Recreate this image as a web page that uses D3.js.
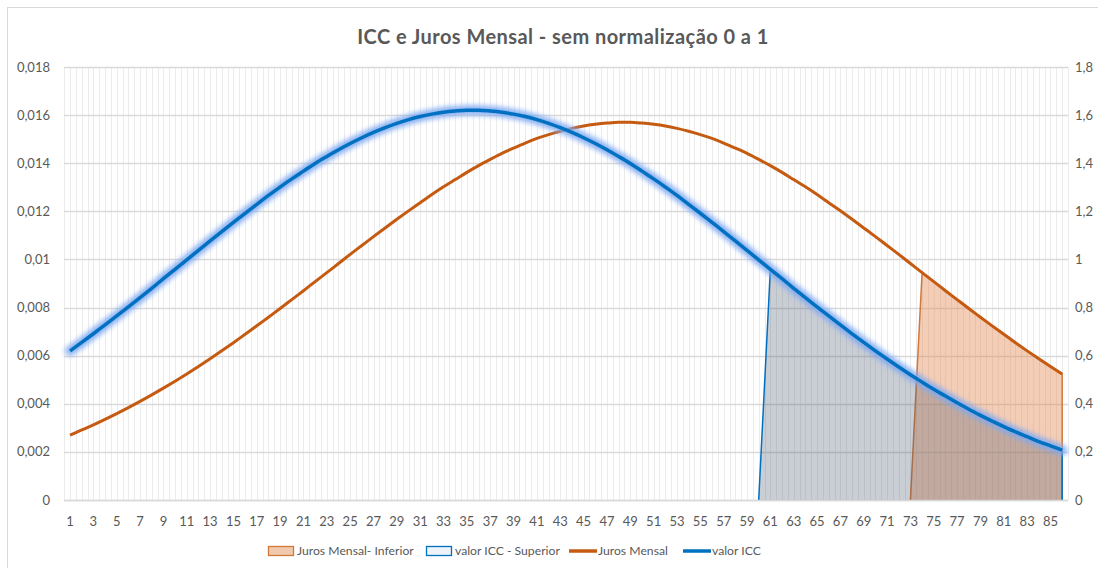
<!DOCTYPE html>
<html>
<head>
<meta charset="utf-8">
<script src="https://cdn.jsdelivr.net/npm/d3@7"></script>
<style>
body { margin: 0; background: #fff; }
text { font-family: Lato, "Open Sans", sans-serif; fill: #595959; }
</style>
</head>
<body>
<div id="mainDiv"></div>
<script>
'use strict';

// categorias 1..86
var categories = d3.range(1, 87);

// valor ICC (eixo esquerdo)
var valorICC = [
  0.00620, 0.00655, 0.00691, 0.00728, 0.00765, 0.00803, 0.00841, 0.00880, 0.00920, 0.00959,
  0.00998, 0.01038, 0.01077, 0.01116, 0.01154, 0.01192, 0.01229, 0.01266, 0.01301, 0.01335,
  0.01367, 0.01399, 0.01428, 0.01456, 0.01482, 0.01506, 0.01528, 0.01548, 0.01566, 0.01581,
  0.01594, 0.01604, 0.01612, 0.01617, 0.01620, 0.01620, 0.01617, 0.01612, 0.01604, 0.01594,
  0.01581, 0.01566, 0.01548, 0.01528, 0.01506, 0.01482, 0.01456, 0.01428, 0.01399, 0.01367,
  0.01335, 0.01301, 0.01266, 0.01229, 0.01192, 0.01154, 0.01116, 0.01077, 0.01038, 0.00998,
  0.00959, 0.00920, 0.00880, 0.00841, 0.00803, 0.00765, 0.00728, 0.00691, 0.00655, 0.00620,
  0.00586, 0.00553, 0.00521, 0.00490, 0.00460, 0.00432, 0.00404, 0.00377, 0.00352, 0.00328,
  0.00305, 0.00283, 0.00263, 0.00243, 0.00225, 0.00207
];

// Juros Mensal (eixo direito)
var jurosMensal = [
  0.270, 0.291, 0.312, 0.335, 0.359, 0.384, 0.410, 0.437, 0.465, 0.494,
  0.524, 0.555, 0.587, 0.620, 0.654, 0.689, 0.724, 0.760, 0.796, 0.833,
  0.870, 0.908, 0.945, 0.983, 1.021, 1.058, 1.095, 1.131, 1.167, 1.202,
  1.236, 1.270, 1.302, 1.332, 1.362, 1.390, 1.416, 1.441, 1.463, 1.484,
  1.503, 1.519, 1.533, 1.545, 1.555, 1.562, 1.567, 1.570, 1.570, 1.567,
  1.562, 1.555, 1.545, 1.533, 1.519, 1.503, 1.484, 1.463, 1.441, 1.416,
  1.390, 1.362, 1.332, 1.302, 1.270, 1.236, 1.202, 1.167, 1.131, 1.095,
  1.058, 1.021, 0.983, 0.945, 0.908, 0.870, 0.833, 0.796, 0.760, 0.724,
  0.689, 0.654, 0.620, 0.587, 0.555, 0.524
];

// valor ICC - Superior (area, eixo esquerdo)
var iccSuperior = [
  0, 0, 0, 0, 0, 0, 0, 0, 0, 0,
  0, 0, 0, 0, 0, 0, 0, 0, 0, 0,
  0, 0, 0, 0, 0, 0, 0, 0, 0, 0,
  0, 0, 0, 0, 0, 0, 0, 0, 0, 0,
  0, 0, 0, 0, 0, 0, 0, 0, 0, 0,
  0, 0, 0, 0, 0, 0, 0, 0, 0, 0,
  0.00959, 0.00920, 0.00880, 0.00841, 0.00803, 0.00765, 0.00728, 0.00691, 0.00655, 0.00620,
  0.00586, 0.00553, 0.00521, 0.00490, 0.00460, 0.00432, 0.00404, 0.00377, 0.00352, 0.00328,
  0.00305, 0.00283, 0.00263, 0.00243, 0.00225, 0.00207
];

// Juros Mensal - Inferior (area, eixo direito)
var jurosInferior = [
  0, 0, 0, 0, 0, 0, 0, 0, 0, 0,
  0, 0, 0, 0, 0, 0, 0, 0, 0, 0,
  0, 0, 0, 0, 0, 0, 0, 0, 0, 0,
  0, 0, 0, 0, 0, 0, 0, 0, 0, 0,
  0, 0, 0, 0, 0, 0, 0, 0, 0, 0,
  0, 0, 0, 0, 0, 0, 0, 0, 0, 0,
  0, 0, 0, 0, 0, 0, 0, 0, 0, 0,
  0, 0, 0, 0.945, 0.908, 0.870, 0.833, 0.796, 0.760, 0.724,
  0.689, 0.654, 0.620, 0.587, 0.555, 0.524
];

var leftTicks  = [0, 0.002, 0.004, 0.006, 0.008, 0.010, 0.012, 0.014, 0.016, 0.018];
var rightTicks = [0, 0.2, 0.4, 0.6, 0.8, 1.0, 1.2, 1.4, 1.6, 1.8];

var legendItems = [
  {name: 'Juros Mensal- Inferior', type: 'area', fill: '#f1c9ae', stroke: '#d2773a', x: 268},
  {name: 'valor ICC - Superior',   type: 'area', fill: '#eef3fa', stroke: '#0070c0', x: 426},
  {name: 'Juros Mensal',           type: 'line', stroke: '#c55a11', x: 569},
  {name: 'valor ICC',              type: 'line', stroke: '#0070c0', x: 683}
];

var W = 1098, H = 568;
var plot = {left: 64.2, right: 1068, top: 67, bottom: 500};

var ptBR = d3.formatLocale({decimal: ',', thousands: '.', grouping: [3], currency: ['R$', '']});
var fmt = ptBR.format('~g');

var svg = d3.select('#mainDiv').append('svg')
  .attr('width', W)
  .attr('height', H);

// moldura
svg.append('rect')
  .attr('x', 7.5).attr('y', 7.5)
  .attr('width', W + 20).attr('height', H + 20)
  .attr('fill', 'none')
  .attr('stroke', '#d9d9d9');

var x = d3.scaleBand()
  .domain(categories)
  .range([plot.left, plot.right])
  .padding(0);
var bw = x.bandwidth();
var cx = function(c) { return x(c) + bw / 2; };

var yL = d3.scaleLinear().domain([0, 0.018]).range([plot.bottom, plot.top]);
var yR = d3.scaleLinear().domain([0, 1.8]).range([plot.bottom, plot.top]);

// titulo
svg.append('text')
  .attr('x', 563).attr('y', 44)
  .attr('text-anchor', 'middle')
  .style('font-size', '20px')
  .style('letter-spacing', '0.45px')
  .style('font-weight', 'bold')
  .text('ICC e Juros Mensal - sem normalização 0 a 1');

// grade vertical (meia categoria)
var vLines = [];
categories.forEach(function(c) { vLines.push(x(c)); vLines.push(x(c) + bw / 2); });
vLines.push(plot.right);
svg.append('g').selectAll('line')
  .data(vLines)
  .enter().append('line')
  .attr('x1', function(d) { return Math.round(d) + 0.5; })
  .attr('x2', function(d) { return Math.round(d) + 0.5; })
  .attr('y1', plot.top).attr('y2', plot.bottom)
  .attr('stroke', '#ebebeb')
  .attr('stroke-width', 1);

// grade horizontal
svg.append('g').selectAll('line')
  .data(leftTicks)
  .enter().append('line')
  .attr('x1', plot.left).attr('x2', plot.right)
  .attr('y1', function(d) { return Math.round(yL(d)) + 0.5; })
  .attr('y2', function(d) { return Math.round(yL(d)) + 0.5; })
  .attr('stroke', '#d9d9d9')
  .attr('stroke-width', 1.3);

// areas
function partDefined(arr) {
  return function(d, i) { return arr[i] > 0 || arr[i + 1] > 0; };
}

function drawArea(arr, y, fill, stroke) {
  var pts = categories.map(function(c, i) { return [c, arr[i]]; });
  var def = partDefined(arr);
  var area = d3.area()
    .defined(def)
    .x(function(d) { return cx(d[0]); })
    .y0(plot.bottom)
    .y1(function(d) { return y(d[1]); });
  svg.append('path')
    .attr('d', area(pts))
    .attr('fill', fill);

  var sel = pts.filter(def);
  sel.push([sel[sel.length - 1][0], 0]);
  var line = d3.line()
    .x(function(d) { return cx(d[0]); })
    .y(function(d) { return y(d[1]); });
  svg.append('path')
    .attr('d', line(sel))
    .attr('fill', 'none')
    .attr('stroke', stroke)
    .attr('stroke-width', 1.5);
}

drawArea(jurosInferior, yR, 'rgba(228,135,80,0.42)', '#d2773a');
drawArea(iccSuperior, yL, 'rgba(68,84,106,0.29)', '#0070c0');

// eixo x
svg.append('line')
  .attr('x1', plot.left).attr('x2', plot.right)
  .attr('y1', plot.bottom + 0.5).attr('y2', plot.bottom + 0.5)
  .attr('stroke', '#d9d9d9')
  .attr('stroke-width', 1.3);

// linhas
var lineJ = d3.line()
  .curve(d3.curveMonotoneX)
  .x(function(d, i) { return cx(categories[i]); })
  .y(function(d) { return yR(d); });
var lineI = d3.line()
  .curve(d3.curveMonotoneX)
  .x(function(d, i) { return cx(categories[i]); })
  .y(function(d) { return yL(d); });

svg.append('path')
  .attr('d', lineJ(jurosMensal))
  .attr('fill', 'none')
  .attr('stroke', '#c55a11')
  .attr('stroke-width', 3)
  .attr('stroke-linejoin', 'round');

var defs = svg.append('defs');
defs.append('filter')
  .attr('id', 'glow')
  .attr('x', '-5%').attr('y', '-20%').attr('width', '110%').attr('height', '140%')
  .append('feGaussianBlur')
  .attr('stdDeviation', 2.4);

svg.append('path')
  .attr('d', lineI(valorICC))
  .attr('fill', 'none')
  .attr('stroke', '#7ea8f2')
  .attr('stroke-opacity', 0.9)
  .attr('stroke-width', 10)
  .attr('stroke-linecap', 'round')
  .attr('filter', 'url(#glow)');

svg.append('path')
  .attr('d', lineI(valorICC))
  .attr('fill', 'none')
  .attr('stroke', '#0070c0')
  .attr('stroke-width', 3.5)
  .attr('stroke-linejoin', 'round');

// rotulos eixo esquerdo
svg.append('g').selectAll('text')
  .data(leftTicks)
  .enter().append('text')
  .attr('x', 50)
  .attr('y', function(d) { return yL(d); })
  .attr('dy', '0.35em')
  .attr('text-anchor', 'end')
  .style('font-size', '13px')
  .text(function(d) { return fmt(d); });

// rotulos eixo direito
svg.append('g').selectAll('text')
  .data(rightTicks)
  .enter().append('text')
  .attr('x', 1075)
  .attr('y', function(d) { return yR(d); })
  .attr('dy', '0.35em')
  .attr('text-anchor', 'start')
  .style('font-size', '13px')
  .text(function(d) { return fmt(d); });

// rotulos eixo x
svg.append('g').selectAll('text')
  .data(categories.filter(function(c) { return c % 2 === 1; }))
  .enter().append('text')
  .attr('x', function(d) { return cx(d); })
  .attr('y', 521)
  .attr('dy', '0.35em')
  .attr('text-anchor', 'middle')
  .style('font-size', '13px')
  .text(function(d) { return d; });

// legenda
var lg = svg.append('g').selectAll('g')
  .data(legendItems)
  .enter().append('g');

lg.each(function(d) {
  var g = d3.select(this);
  if (d.type === 'area') {
    g.append('rect')
      .attr('x', d.x + 0.5).attr('y', 546.5)
      .attr('width', 25).attr('height', 9)
      .attr('fill', d.fill)
      .attr('stroke', d.stroke)
      .attr('stroke-width', 1.3);
  } else {
    g.append('line')
      .attr('x1', d.x).attr('x2', d.x + 28)
      .attr('y1', 551).attr('y2', 551)
      .attr('stroke', d.stroke)
      .attr('stroke-width', 3.5);
  }
  g.append('text')
    .attr('x', d.x + 29)
    .attr('y', 551)
    .attr('dy', '0.35em')
    .style('font-size', '12.2px')
    .text(d.name);
});
</script>
</body>
</html>
